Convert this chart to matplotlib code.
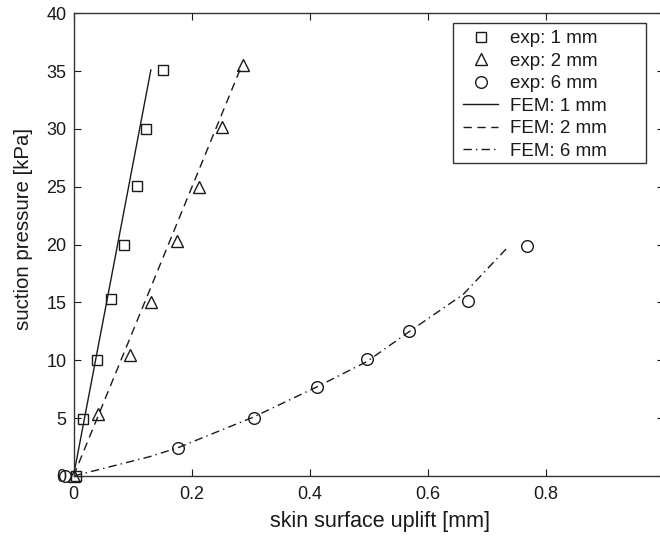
import matplotlib
matplotlib.use("Agg")
import matplotlib.pyplot as plt
from matplotlib.patches import Rectangle

plt.rcParams['font.family'] = ['Liberation Sans', 'DejaVu Sans']

# ---- data ----
exp1_x = [0.005, 0.016, 0.039, 0.064, 0.086, 0.108, 0.123, 0.152]
exp1_y = [0.0, 4.9, 10.0, 15.3, 20.0, 25.1, 30.0, 35.1]

exp2_x = [0.0, 0.041, 0.096, 0.131, 0.175, 0.212, 0.252, 0.287]
exp2_y = [0.0, 5.4, 10.5, 15.0, 20.3, 25.0, 30.2, 35.5]

exp6_x = [-0.015, 0.177, 0.305, 0.412, 0.497, 0.569, 0.668, 0.768]
exp6_y = [0.0, 2.4, 5.0, 7.7, 10.1, 12.5, 15.1, 19.9]

fem1_x = [0.0, 0.131]
fem1_y = [0.0, 35.1]

fem2_x = [0.0, 0.285]
fem2_y = [0.0, 35.5]

fem6_x = [0.0, 0.129, 0.177, 0.305, 0.412, 0.497, 0.569, 0.660, 0.734]
fem6_y = [0.0, 1.67, 2.45, 5.1, 7.7, 9.9, 12.5, 15.7, 19.7]

labels = ['exp: 1 mm', 'exp: 2 mm', 'exp: 6 mm', 'FEM: 1 mm', 'FEM: 2 mm', 'FEM: 6 mm']
xticks = [0, 0.2, 0.4, 0.6, 0.8]
xticklabels = ['0', '0.2', '0.4', '0.6', '0.8']
yticks = [0, 5, 10, 15, 20, 25, 30, 35, 40]

W, H = 660, 540
fig = plt.figure(figsize=(W / 100, H / 100), dpi=100)
left, right, top, bottom = 73.5, 664.0, 13.3, 476.0
ax = fig.add_axes([left / W, 1 - bottom / H, (right - left) / W, (bottom - top) / H])

c = '#1a1a1a'
mk = dict(linestyle='none', markerfacecolor='none', markeredgecolor=c,
          markeredgewidth=1.0, clip_on=False, zorder=3)
h1, = ax.plot(exp1_x, exp1_y, marker='s', markersize=7.3, **mk)
h2, = ax.plot(exp2_x, exp2_y, marker='^', markersize=8.6, **mk)
h3, = ax.plot(exp6_x, exp6_y, marker='o', markersize=8.4, **mk)
h4, = ax.plot(fem1_x, fem1_y, color=c, lw=1.0, linestyle='-')
h5, = ax.plot(fem2_x, fem2_y, color=c, lw=1.0, linestyle=(0, (6, 4)))
h6, = ax.plot(fem6_x, fem6_y, color=c, lw=1.0, linestyle=(0, (6, 3, 1, 3)))

ax.set_xlim(0, 1.0)
ax.set_ylim(0, 40)
ax.set_xticks(xticks)
ax.set_xticklabels(xticklabels)
ax.set_yticks(yticks)
ax.tick_params(direction='in', length=5, width=0.8, top=True, right=True,
               labelsize=13, colors=c)
ax.tick_params(axis='x', pad=7)
ax.tick_params(axis='y', pad=5)
for s in ax.spines.values():
    s.set_linewidth(1.0)
    s.set_color('#333333')

fig.text(380 / W, 1 - 522 / H, 'skin surface uplift [mm]', ha='center', va='center',
         fontsize=15.5, color=c)
fig.text(24 / W, 1 - 229 / H, 'suction pressure [kPa]', ha='center', va='center',
         rotation=90, fontsize=14.7, color=c)

# legend frame (drawn as a box in figure pixels)
box = Rectangle((453 / W, 1 - 163 / H), (646 - 453) / W, (163 - 23) / H,
                transform=fig.transFigure, fill=True, facecolor='white',
                edgecolor='#333333', linewidth=1.0, zorder=5, clip_on=False)
ax.add_patch(box)
leg = ax.legend([h1, h2, h3, h4, h5, h6], labels, loc='upper left',
                bbox_to_anchor=(463 / W, 1 - 30 / H), bbox_transform=fig.transFigure,
                fontsize=13.5, frameon=False, borderaxespad=0, borderpad=0,
                handlelength=1.87, handletextpad=0.64, labelspacing=0.29)
leg.set_zorder(6)
for t in leg.get_texts():
    t.set_color(c)

fig.savefig('out.png', dpi=100)
